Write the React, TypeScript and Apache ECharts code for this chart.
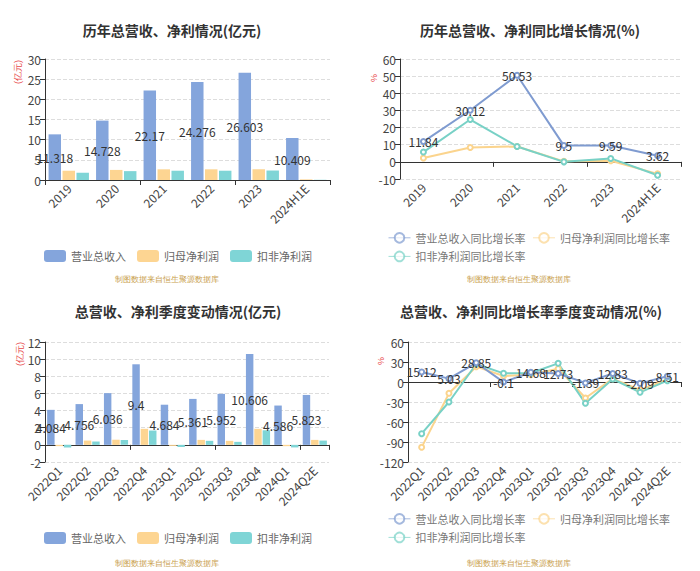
import React, { useEffect, useRef } from "react";
import * as echarts from "echarts";

const years = ["2019", "2020", "2021", "2022", "2023", "2024H1E"];
const revenueAnnual = [11.318, 14.728, 22.17, 24.276, 26.603, 10.409];
const netProfitAnnual = [2.3, 2.5, 2.65, 2.65, 2.65, 0.15];
const deductedAnnual = [1.8, 2.2, 2.3, 2.3, 2.35, 0.05];

const revenueGrowthAnnual = [11.84, 30.12, 50.53, 9.5, 9.59, 3.62];
const netProfitGrowthAnnual = [2.2, 8.4, 9.0, 0.3, 0.6, -7.0];
const deductedGrowthAnnual = [5.7, 24.7, 9.0, 0.0, 2.0, -7.8];

const quarters = ["2022Q1", "2022Q2", "2022Q3", "2022Q4", "2023Q1", "2023Q2", "2023Q3", "2023Q4", "2024Q1", "2024Q2E"];
const revenueQ = [4.084, 4.756, 6.036, 9.4, 4.684, 5.361, 5.952, 10.606, 4.586, 5.823];
const netProfitQ = [-0.15, 0.5, 0.6, 1.87, -0.12, 0.58, 0.47, 1.87, -0.15, 0.58];
const deductedQ = [-0.3, 0.39, 0.58, 1.67, -0.25, 0.47, 0.35, 1.7, -0.3, 0.5];

const revenueGrowthQ = [15.12, 5.03, 28.85, -0.1, 14.68, 12.73, -1.39, 12.83, -2.09, 8.51];
const netProfitGrowthQ = [-98, -17, 23, 9, 11, 20, -24, 5, -12, 4];
const deductedGrowthQ = [-77.5, -30, 27, 13, 13.5, 28, -32, 4.5, -15.5, 2];

const barNames = ["营业总收入", "归母净利润", "扣非净利润"];
const lineNames = ["营业总收入同比增长率", "归母净利润同比增长率", "扣非净利润同比增长率"];
const titles = ["历年总营收、净利情况(亿元)", "历年总营收、净利同比增长情况(%)", "总营收、净利季度变动情况(亿元)", "总营收、净利同比增长率季度变动情况(%)"];
const footer = "制图数据来自恒生聚源数据库";

const BAR_COLORS = ["#84a5dc", "#fdd592", "#7fd5d6"];
const LINE_COLORS = ["#7f9bd0", "#fbd48d", "#78d1c6"];
const AXIS = "#333";

export default function App() {
  const ref = useRef<HTMLDivElement>(null);
  useEffect(() => {
    if (!ref.current) return;
    const chart = echarts.init(ref.current, null, { renderer: "svg" });

    const grids = [
      { left: 45, top: 59, width: 285, height: 121 },
      { left: 400, top: 59, width: 281, height: 120 },
      { left: 45, top: 342, width: 284, height: 120 },
      { left: 408, top: 342, width: 273, height: 120 },
    ];
    const cats = [years, years, quarters, quarters];
    const yRanges = [
      { min: 0, max: 30, interval: 5 },
      { min: -10, max: 60, interval: 10 },
      { min: -2, max: 12, interval: 2 },
      { min: -120, max: 60, interval: 30 },
    ];

    const xAxis: any[] = [];
    cats.forEach((c, i) => {
      xAxis.push({
        type: "category", gridIndex: i, data: c, position: "bottom",
        axisLine: { show: true, onZero: true, lineStyle: { color: AXIS } },
        axisTick: { show: true, length: 5, lineStyle: { color: AXIS } },
        axisLabel: { show: false },
      });
      xAxis.push({
        type: "category", gridIndex: i, data: c, position: "bottom",
        axisLine: { show: false, onZero: false },
        axisTick: { show: false },
        axisLabel: { show: true, rotate: 45, color: "#444", fontSize: 12, margin: 6 },
      });
    });

    const yAxis = yRanges.map((r, i) => ({
      type: "value", gridIndex: i, ...r,
      axisLine: { show: true, lineStyle: { color: AXIS } },
      axisTick: { show: true, length: 5, lineStyle: { color: AXIS } },
      axisLabel: { color: "#444", fontSize: 12, margin: 4 },
      splitLine: { show: true, lineStyle: { color: "#ddd", type: "dashed" } },
    }));

    const barSeries = (gi: number, data: number[][]) =>
      data.map((d, k) => ({
        type: "bar", name: barNames[k], xAxisIndex: gi * 2, yAxisIndex: gi, data: d,
        barCategoryGap: "15%", barGap: "12%",
        itemStyle: { color: BAR_COLORS[k] },
        label: k === 0 ? { show: true, position: "inside", color: "#333", fontSize: 12 } : { show: false },
      }));
    const lineSeries = (gi: number, data: number[][]) =>
      data.map((d, k) => ({
        type: "line", name: lineNames[k], xAxisIndex: gi * 2, yAxisIndex: gi, data: d,
        symbol: "emptyCircle", symbolSize: 5, z: k === 0 ? 4 : 3,
        lineStyle: { color: LINE_COLORS[k], width: 2 },
        itemStyle: { color: LINE_COLORS[k] },
        label: k === 0 ? { show: true, position: "inside", color: "#333", fontSize: 12 } : { show: false },
      }));

    const series = [
      ...barSeries(0, [revenueAnnual, netProfitAnnual, deductedAnnual]),
      ...lineSeries(1, [revenueGrowthAnnual, netProfitGrowthAnnual, deductedGrowthAnnual]),
      ...barSeries(2, [revenueQ, netProfitQ, deductedQ]),
      ...lineSeries(3, [revenueGrowthQ, netProfitGrowthQ, deductedGrowthQ]),
    ];

    const titleCenters = [[167, 18], [525, 18], [173, 299], [526, 299]];
    const title = titles.map((t, i) => ({
      text: t, left: titleCenters[i][0], top: titleCenters[i][1],
      textAlign: "center",
      textStyle: { fontSize: 14, fontWeight: "bold", color: "#333" },
    }));

    const barLegend = (top: number) => ({
      data: barNames, left: 39, top, itemWidth: 22, itemHeight: 12, icon: "roundRect", itemGap: 11,
      textStyle: { fontSize: 11, color: "#666" },
    });
    const lineLegend = (top: number) => ({
      data: lineNames, left: 383, top, width: 290, itemWidth: 22, itemHeight: 12, itemGap: 7,
      textStyle: { fontSize: 11, color: "#777" },
      lineStyle: { width: 1, opacity: 0.7 },
      itemStyle: { opacity: 0.7, borderWidth: 1 },
    });
    const legend = [barLegend(245), lineLegend(227), barLegend(527), lineLegend(508)];

    const axisNames = [
      { t: "(亿元)", x: 18, y: 72 },
      { t: "%", x: 374, y: 78 },
      { t: "(亿元)", x: 20, y: 354 },
      { t: "%", x: 381, y: 361 },
    ];
    const footers = [[167, 279], [519, 279], [167, 563], [519, 563]];
    const graphic = [
      ...axisNames.map((a) => ({
        type: "text", x: a.x, y: a.y, rotation: Math.PI / 2,
        style: { text: a.t, fill: "#e8494b", fontSize: 9, textAlign: "center", textVerticalAlign: "middle" },
      })),
      ...footers.map((f) => ({
        type: "text", x: f[0], y: f[1],
        style: { text: footer, fill: "#c9a04c", fontSize: 8, textAlign: "center", textVerticalAlign: "middle" },
      })),
    ];

    chart.setOption({
      animation: false,
      backgroundColor: "#fff",
      textStyle: { fontFamily: "'Noto Sans CJK SC', 'Noto Sans', sans-serif" },
      title, legend, grid: grids, xAxis, yAxis, series, graphic,
    });
    return () => chart.dispose();
  }, []);
  return <div ref={ref} style={{ position: "absolute", left: 0, top: 0, width: 700, height: 571 }} />;
}
